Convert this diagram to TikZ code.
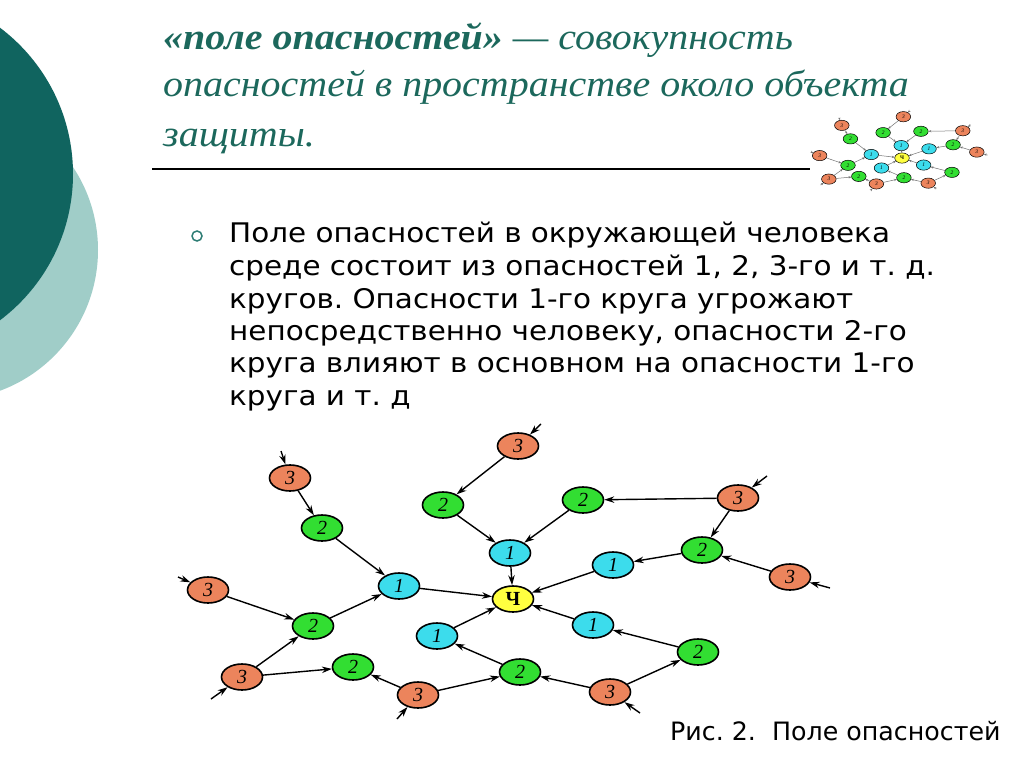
\documentclass[tikz,border=0pt]{standalone}
\usepackage{fontspec}
\setmainfont{Liberation Serif}
\newfontfamily\ttlfont[FakeStretch=1.08]{Liberation Serif}
\newfontfamily\bodyfont[FakeStretch=1.09]{DejaVu Sans}
\newfontfamily\capfont{DejaVu Sans}
\usetikzlibrary{shapes.geometric,arrows.meta}
\definecolor{darkteal}{RGB}{16,100,95}
\definecolor{lightteal}{RGB}{160,205,200}
\definecolor{titleteal}{RGB}{28,104,92}
\definecolor{bulletteal}{RGB}{46,125,116}
\definecolor{horange}{RGB}{236,132,92}
\definecolor{hgreen}{RGB}{50,222,50}
\definecolor{hcyan}{RGB}{60,220,236}
\definecolor{hyellow}{RGB}{255,255,64}
\def\nbw{1.6pt}
\def\nw{41pt}
\def\nh{26pt}
\newcommand\hnet[2]{%
  \node[hz,fill=hyellow,font=\fontsize{20}{20}\selectfont\bfseries] (#1c) at (513,599) {Ч};
  \node[hz,fill=hcyan] (#1a1) at (399,586) {1};
  \node[hz,fill=hcyan] (#1b1) at (510,553) {1};
  \node[hz,fill=hcyan] (#1d1) at (613,565) {1};
  \node[hz,fill=hcyan] (#1e1) at (593,625) {1};
  \node[hz,fill=hcyan] (#1f1) at (437,636) {1};
  \node[hz,fill=hgreen] (#1a2) at (322,528) {2};
  \node[hz,fill=hgreen] (#1g2) at (313,626) {2};
  \node[hz,fill=hgreen] (#1b2) at (443,505) {2};
  \node[hz,fill=hgreen] (#1c2) at (583,500) {2};
  \node[hz,fill=hgreen] (#1d2) at (702,550) {2};
  \node[hz,fill=hgreen] (#1e2) at (698,652) {2};
  \node[hz,fill=hgreen] (#1f2) at (520,672) {2};
  \node[hz,fill=hgreen] (#1h2) at (353,667) {2};
  \node[hz,fill=horange] (#1a3) at (290,478) {3};
  \node[hz,fill=horange] (#1b3) at (518,446) {3};
  \node[hz,fill=horange] (#1c3) at (738,498) {3};
  \node[hz,fill=horange] (#1d3) at (790,577) {3};
  \node[hz,fill=horange] (#1e3) at (208,590) {3};
  \node[hz,fill=horange] (#1f3) at (242,677) {3};
  \node[hz,fill=horange] (#1g3) at (418,695) {3};
  \node[hz,fill=horange] (#1h3) at (610,692) {3};
  \coordinate (#1ia3) at (281,451);
  \coordinate (#1ib3) at (541,424);
  \coordinate (#1ic3) at (767,476);
  \coordinate (#1id3) at (830,588);
  \coordinate (#1ie3) at (178,577);
  \coordinate (#1if3) at (211,699);
  \coordinate (#1ig3) at (397,719);
  \coordinate (#1ih3) at (640,713);
  \draw[#2] (#1a3) -- (#1a2);
  \draw[#2] (#1a2) -- (#1a1);
  \draw[#2] (#1a1) -- (#1c);
  \draw[#2] (#1b3) -- (#1b2);
  \draw[#2] (#1b2) -- (#1b1);
  \draw[#2] (#1c2) -- (#1b1);
  \draw[#2] (#1b1) -- (#1c);
  \draw[#2] (#1c3) -- (#1c2);
  \draw[#2] (#1c3) -- (#1d2);
  \draw[#2] (#1d3) -- (#1d2);
  \draw[#2] (#1d2) -- (#1d1);
  \draw[#2] (#1d1) -- (#1c);
  \draw[#2] (#1e3) -- (#1g2);
  \draw[#2] (#1f3) -- (#1g2);
  \draw[#2] (#1g2) -- (#1a1);
  \draw[#2] (#1f3) -- (#1h2);
  \draw[#2] (#1g3) -- (#1h2);
  \draw[#2] (#1g3) -- (#1f2);
  \draw[#2] (#1h3) -- (#1f2);
  \draw[#2] (#1f2) -- (#1f1);
  \draw[#2] (#1f1) -- (#1c);
  \draw[#2] (#1h3) -- (#1e2);
  \draw[#2] (#1e2) -- (#1e1);
  \draw[#2] (#1e1) -- (#1c);
  \draw[#2] (#1ia3) -- (#1a3);
  \draw[#2] (#1ib3) -- (#1b3);
  \draw[#2] (#1ic3) -- (#1c3);
  \draw[#2] (#1id3) -- (#1d3);
  \draw[#2] (#1ie3) -- (#1e3);
  \draw[#2] (#1if3) -- (#1f3);
  \draw[#2] (#1ig3) -- (#1g3);
  \draw[#2] (#1ih3) -- (#1h3);
}
\begin{document}
\frenchspacing
\begin{tikzpicture}[x=1pt,y=-1pt,
  hz/.style={ellipse,draw=black,line width=\nbw,minimum width=\nw,minimum height=\nh,inner sep=0pt,
    font=\fontsize{20}{20}\selectfont\itshape},
  edge/.style={-{Stealth[length=10pt,width=6.5pt]},line width=1.4pt,black},
  thumbedge/.style={-{Stealth[length=3pt,width=2.2pt]},line width=0.5pt,black!55},
  ttl/.style={anchor=base west,inner sep=0pt,text=titleteal,font=\ttlfont\fontsize{37}{37}\selectfont\itshape},
  body/.style={anchor=base west,inner sep=0pt,font=\bodyfont\fontsize{27}{27}\selectfont},
]
\useasboundingbox (0,0) rectangle (1024,767);
\fill[white] (0,0) rectangle (1024,767);
\begin{scope}
  \clip (0,0) rectangle (1024,767);
  \fill[lightteal] (-52,250) circle[radius=150];
  \fill[darkteal] (-110,174) circle[radius=183];
\end{scope}
% title
\node[ttl] (t1) at (163,50) {{\bfseries «поле опасностей»} — совокупность};
\node[ttl] (t2) at (163,97) {опасностей в пространстве около объекта};
\node[ttl] (t3) at (163,147) {защиты.};
\coordinate (rl) at (152,169);
\coordinate (rr) at (810,169);
\draw[line width=1.5pt,black] (rl) -- (rr);
% bullet text
\node[circle,draw=bulletteal,line width=1.5pt,minimum size=10pt,inner sep=0pt] (bul) at (197,236) {};
\node[body] (b1) at (229,243) {Поле опасностей в окружающей человека};
\node[body] (b2) at (229,275.5) {среде состоит из опасностей 1, 2, 3-го и т. д.};
\node[body] (b3) at (229,308) {кругов. Опасности 1-го круга угрожают};
\node[body] (b4) at (229,340) {непосредственно человеку, опасности 2-го};
\node[body] (b5) at (229,372.5) {круга влияют в основном на опасности 1-го};
\node[body] (b6) at (229,405) {круга и т. д};
\node[body,font=\capfont\fontsize{25.3}{25.3}\selectfont] (cap) at (670,740) {Рис. 2.\ \ Поле опасностей};
% main network
\hnet{m}{edge}
% thumbnail
\begin{scope}[shift={(763.5,-3.7)},scale=0.27,transform shape]
  \def\nbw{0.5pt}
  \def\nw{54pt}
  \def\nh{38pt}
  \hnet{s}{thumbedge}
\end{scope}
\end{tikzpicture}
\end{document}
